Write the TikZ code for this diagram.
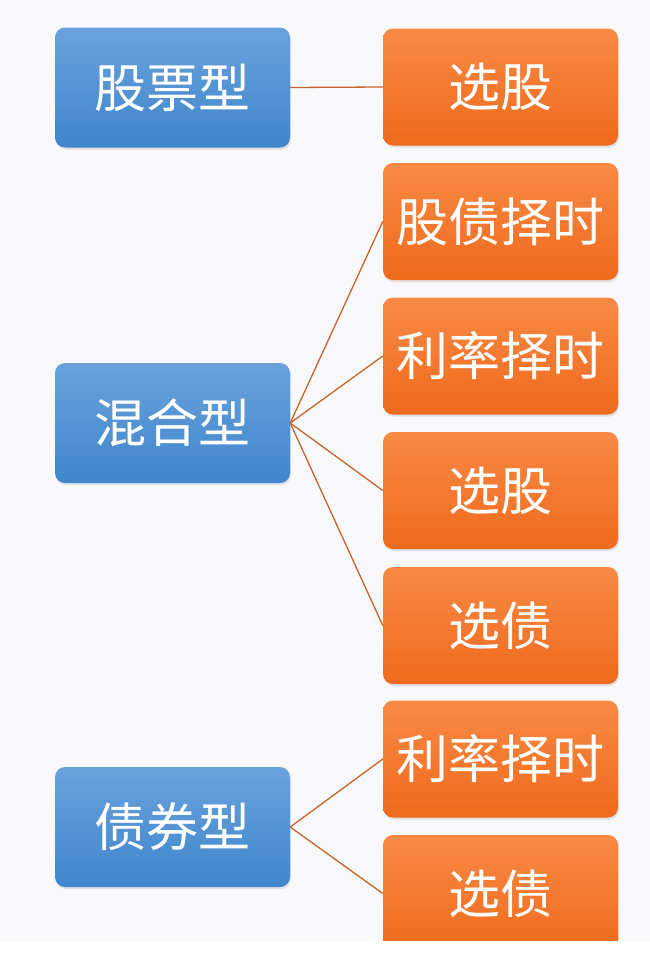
\documentclass[tikz,border=0pt]{standalone}
\usepackage{fontspec}
\setmainfont{Noto Sans CJK SC}
\usetikzlibrary{shadows}

\definecolor{pagebg}{HTML}{F9F9FC}
\definecolor{fundtop}{HTML}{6AA2DC}
\definecolor{fundbot}{HTML}{3F86CC}
\definecolor{waytop}{HTML}{F88A45}
\definecolor{waybot}{HTML}{EF6A1C}
\definecolor{linkcol}{HTML}{C8642A}

\begin{document}
\begin{tikzpicture}[x=1pt,y=-1pt,
    box/.style={rounded corners=10pt,minimum width=235pt,inner sep=0pt,
      text=white,font=\fontsize{52}{60}\selectfont,
      drop shadow={shadow xshift=1pt,shadow yshift=-2pt,opacity=.25,fill=black!40}},
    fund/.style={box,minimum height=120pt,top color=fundtop,bottom color=fundbot},
    way/.style={box,minimum height=117pt,top color=waytop,bottom color=waybot},
    link/.style={draw=linkcol,line width=1.3pt}]

    \fill[pagebg] (0,0) rectangle (650,941);
    \useasboundingbox (0,0) rectangle (650,972);

    \node[fund] (stock) at (172.5,87.5) {股票型};
    \node[fund] (mixed) at (172.5,423) {混合型};
    \node[fund] (bond) at (172.5,827) {债券型};

    \node[way] (s1) at (500.5,87) {选股};
    \node[way] (m1) at (500.5,221.5) {股债择时};
    \node[way] (m2) at (500.5,356) {利率择时};
    \node[way] (m3) at (500.5,490.5) {选股};
    \node[way] (m4) at (500.5,625.5) {选债};
    \node[way] (b1) at (500.5,759) {利率择时};
    \node[way] (b2) at (500.5,893.5) {选债};

    \path[link] (stock.east) -- (s1.west);
    \path[link] (mixed.east) -- (m1.west);
    \path[link] (mixed.east) -- (m2.west);
    \path[link] (mixed.east) -- (m3.west);
    \path[link] (mixed.east) -- (m4.west);
    \path[link] (bond.east) -- (b1.west);
    \path[link] (bond.east) -- (b2.west);

    % the last box is cut off by the page edge
    \fill[white] (0,941) rectangle (650,972);

  \end{tikzpicture}
\end{document}
